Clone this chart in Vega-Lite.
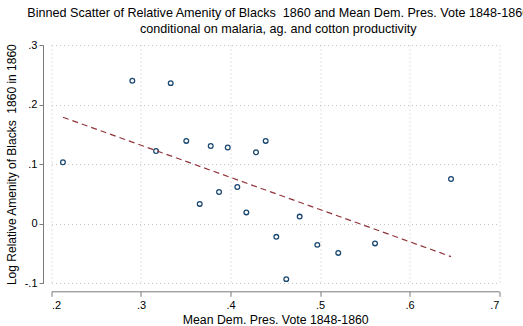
{
  "$schema": "https://vega.github.io/schema/vega-lite/v6.json",
  "autosize": "none",
  "padding": {"left": 51.5, "top": 45, "right": 24, "bottom": 42.7},
  "width": 447.5,
  "height": 238.3,
  "background": "white",
  "title": {
    "text": ["Binned Scatter of Relative Amenity of Blacks \u00a01860 and Mean Dem. Pres. Vote 1848-1860", "conditional on malaria, ag. and cotton productivity"],
    "font": "Liberation Sans",
    "fontSize": 12.6,
    "fontWeight": "normal",
    "color": "#000000",
    "lineHeight": 16,
    "anchor": "middle",
    "dx": 3,
    "offset": 3
  },
  "config": {
    "view": {"stroke": null},
    "axis": {
      "labelFont": "Liberation Sans",
      "titleFont": "Liberation Sans",
      "labelFontSize": 11,
      "titleFontWeight": "normal",
      "labelColor": "#000000",
      "titleColor": "#000000",
      "domainColor": "#7a7a7a",
      "tickColor": "#7a7a7a",
      "tickSize": 5,
      "gridColor": "#c4c4c4",
      "gridDash": [1, 3],
      "gridWidth": 1
    }
  },
  "datasets": {
    "bins": [
      {"vote": 0.2128, "amenity": 0.1033},
      {"vote": 0.2903, "amenity": 0.240},
      {"vote": 0.3332, "amenity": 0.236},
      {"vote": 0.3168, "amenity": 0.122},
      {"vote": 0.3506, "amenity": 0.139},
      {"vote": 0.3779, "amenity": 0.1305},
      {"vote": 0.3969, "amenity": 0.128},
      {"vote": 0.4285, "amenity": 0.120},
      {"vote": 0.4393, "amenity": 0.139},
      {"vote": 0.3656, "amenity": 0.0333},
      {"vote": 0.3872, "amenity": 0.0533},
      {"vote": 0.4076, "amenity": 0.0617},
      {"vote": 0.4177, "amenity": 0.019},
      {"vote": 0.4512, "amenity": -0.022},
      {"vote": 0.4623, "amenity": -0.093},
      {"vote": 0.4773, "amenity": 0.012},
      {"vote": 0.4970, "amenity": -0.0355},
      {"vote": 0.5204, "amenity": -0.049},
      {"vote": 0.5615, "amenity": -0.033},
      {"vote": 0.6464, "amenity": 0.075}
    ],
    "fit": [
      {"vote": 0.2128, "amenity": 0.1788},
      {"vote": 0.6464, "amenity": -0.0552}
    ]
  },
  "encoding": {
    "x": {
      "field": "vote",
      "type": "quantitative",
      "scale": {"domain": [0.2, 0.7], "nice": false, "zero": false},
      "axis": {
        "title": "Mean Dem. Pres. Vote 1848-1860",
        "titleFontSize": 12.3,
        "values": [0.2, 0.3, 0.4, 0.5, 0.6, 0.7],
        "labelExpr": "(datum.value < 0 ? '-' : '') + (datum.value == 0 ? '0' : replace(format(abs(datum.value), '.1f'), '0.', '.'))",
        "offset": 8,
        "labelPadding": 3,
        "titlePadding": 3
      }
    },
    "y": {
      "field": "amenity",
      "type": "quantitative",
      "scale": {"domain": [-0.1, 0.3], "nice": false, "zero": false},
      "axis": {
        "title": "Log Relative Amenity of Blacks \u00a01860 in 1860",
        "titleFontSize": 12,
        "values": [-0.1, 0, 0.1, 0.2, 0.3],
        "labelExpr": "(datum.value < 0 ? '-' : '') + (datum.value == 0 ? '0' : replace(format(abs(datum.value), '.1f'), '0.', '.'))",
        "labelAngle": 0,
        "labelAlign": "right",
        "labelBaseline": "middle",
        "tickSize": 4,
        "offset": 8.5,
        "labelPadding": 2,
        "titlePadding": 6
      }
    }
  },
  "layer": [
    {
      "data": {"name": "bins"},
      "mark": {"type": "point", "shape": "circle", "filled": false, "size": 22, "strokeWidth": 1.3, "color": "#1a476f", "opacity": 1}
    },
    {
      "data": {"name": "fit"},
      "mark": {"type": "line", "color": "#90353b", "strokeDash": [6, 4], "strokeWidth": 1.2}
    }
  ]
}
